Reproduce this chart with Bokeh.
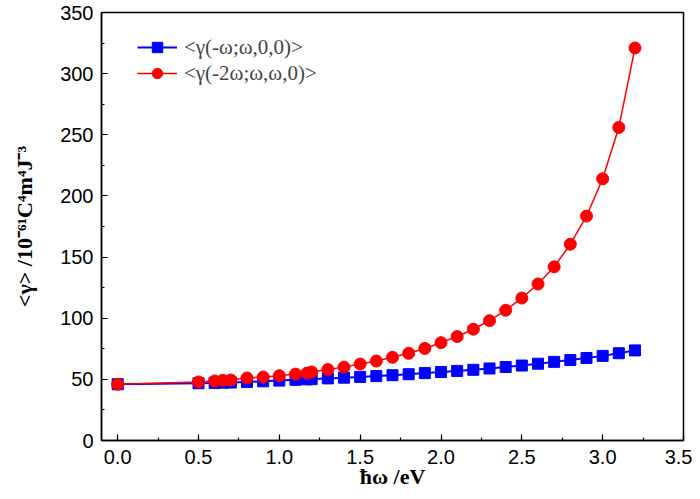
from bokeh.plotting import figure
from bokeh.models import Range1d, SingleIntervalTicker, NumeralTickFormatter
from bokeh.embed import file_html
from bokeh.resources import INLINE

# photon energy (eV)
energy = [0.0, 0.5, 0.6, 0.65, 0.7, 0.8, 0.9, 1.0, 1.1, 1.17, 1.2, 1.3, 1.4, 1.5,
          1.6, 1.7, 1.8, 1.9, 2.0, 2.1, 2.2, 2.3, 2.4, 2.5, 2.6, 2.7, 2.8, 2.9,
          3.0, 3.1, 3.2]
# <gamma(-w;w,0,0)>
gamma_kerr = [46.0, 46.8, 47.1, 47.3, 47.4, 47.9, 48.4, 49.0, 49.6, 50.0, 50.2, 50.8,
              51.4, 52.0, 52.7, 53.4, 54.2, 55.1, 56.0, 56.9, 57.8, 58.9, 60.1, 61.3,
              62.8, 64.3, 65.8, 67.5, 69.2, 71.4, 73.7]
# <gamma(-2w;w,w,0)>
gamma_efish = [46.0, 47.9, 48.7, 49.2, 49.5, 51.1, 51.9, 53.0, 54.3, 55.1, 56.0, 58.0,
               60.0, 62.5, 65.0, 68.0, 71.3, 75.3, 80.0, 85.0, 91.0, 98.0, 106.5, 116.5,
               128.0, 142.0, 160.5, 183.5, 214.0, 256.0, 321.0]

label_kerr = "<γ(-ω;ω,0,0)>"
label_efish = "<γ(-2ω;ω,ω,0)>"

p = figure(width=692, height=491, output_backend="svg", toolbar_location=None,
           x_range=Range1d(-0.1, 3.5), y_range=Range1d(0, 350),
           min_border_left=101, min_border_right=9, min_border_top=12,
           min_border_bottom=0)

p.line(energy, gamma_kerr, color="#0000FF", line_width=2, legend_label=label_kerr)
p.scatter(energy, gamma_kerr, marker="square", size=11, color="#0000FF",
          legend_label=label_kerr)
p.line(energy, gamma_efish, color="#FF0000", line_width=1.5, legend_label=label_efish)
p.scatter(energy, gamma_efish, marker="circle", size=12, color="#FF0000",
          legend_label=label_efish)

p.xgrid.visible = False
p.ygrid.visible = False
p.outline_line_color = "black"
p.outline_line_width = 1.5

p.xaxis.ticker = SingleIntervalTicker(interval=0.5, num_minor_ticks=2)
p.yaxis.ticker = SingleIntervalTicker(interval=50, num_minor_ticks=2)
p.xaxis.formatter = NumeralTickFormatter(format="0.0")

for ax in (p.xaxis[0], p.yaxis[0]):
    ax.axis_line_width = 1.5
    ax.axis_line_color = "black"
    ax.major_tick_in = 6
    ax.major_tick_out = 0
    ax.minor_tick_in = 3
    ax.minor_tick_out = 0
    ax.major_tick_line_width = 1.2
    ax.minor_tick_line_width = 1.2
    ax.major_label_text_font = "Liberation Sans"
    ax.major_label_text_font_size = "20px"
    ax.major_label_text_color = "black"
    ax.axis_label_text_font = "Liberation Serif"
    ax.axis_label_text_font_style = "bold"
    ax.axis_label_text_font_size = "22px"
    ax.axis_label_text_color = "black"

p.xaxis.axis_label = "ħω /eV"
p.xaxis.major_label_standoff = 9
p.xaxis.axis_label_standoff = -3
p.yaxis.axis_label = "<γ> /10⁻⁶¹C⁴m⁴J⁻³"
p.yaxis.major_label_standoff = 8
p.yaxis.axis_label_standoff = 20

lg = p.legend[0]
lg.location = (36, 354)
lg.margin = 0
lg.padding = 0
lg.spacing = 0
lg.border_line_color = None
lg.background_fill_alpha = 0
lg.glyph_width = 40
lg.glyph_height = 26
lg.label_height = 26
lg.label_standoff = 7
lg.label_text_font = "Liberation Serif"
lg.label_text_font_size = "21px"

open("out.html", "w").write(file_html(p, INLINE))
